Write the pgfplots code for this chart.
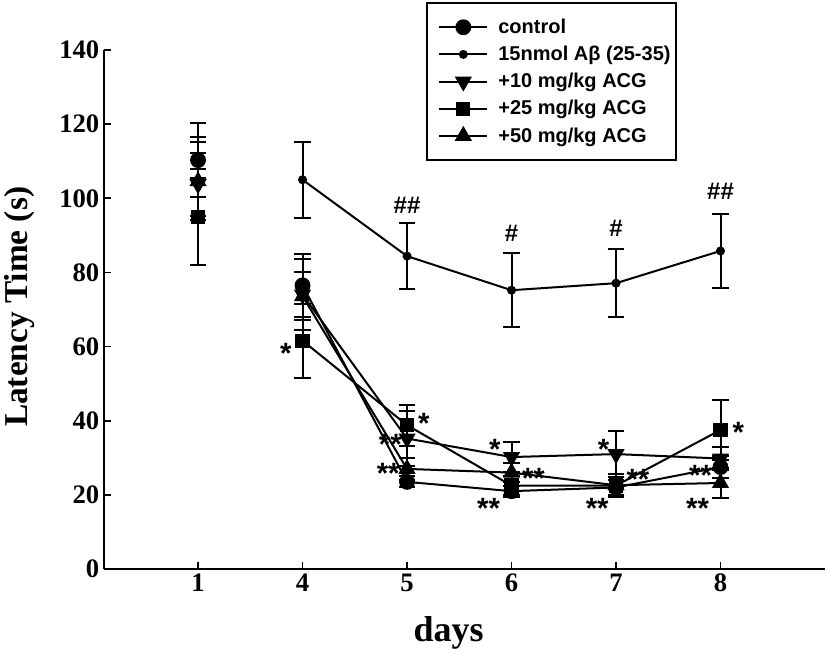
\documentclass[border=0pt]{standalone}
\usepackage{fontspec}
\setmainfont{Liberation Serif}
\setsansfont{Liberation Sans}
\usepackage{pgfplots}
\pgfplotsset{compat=1.18}

\pgfplotstableread{
x y e
1 110.3 10
1.5 nan 0
2 76.5 8.5
3 23.5 1.5
4 21.0 1.5
5 22.0 2
6 27.5 3
}\control
\pgfplotstableread{
x y e
1 111.0 5.5
1.5 nan 0
2 105.0 10.2
3 84.4 9
4 75.2 10
5 77.1 9.2
6 85.8 10
}\abeta
\pgfplotstableread{
x y e
1 103.8 8.5
1.5 nan 0
2 74.0 9.6
3 35.2 7.5
4 30.2 4
5 31.0 6.3
6 29.8 3
}\tenmg
\pgfplotstableread{
x y e
1 95.0 13
1.5 nan 0
2 61.6 10
3 38.8 5.5
4 22.5 2.5
5 22.5 3
6 37.5 8
}\twentyfive
\pgfplotstableread{
x y e
1 104.6 10.5
1.5 nan 0
2 73.6 6.5
3 27.0 3
4 26.0 2.5
5 22.6 3
6 23.2 4
}\fifty

\begin{document}
\begin{tikzpicture}
\begin{axis}[
  scale only axis, width=540.75pt, height=389.25pt,
  xmin=0.1, xmax=7, ymin=0, ymax=140,
  unbounded coords=jump,
  axis lines*=left,
  axis line style={line width=1.5pt, black},
  xtick={1,2,3,4,5,6}, xticklabels={1,4,5,6,7,8},
  ytick={0,20,40,60,80,100,120,140},
  tick align=inside, major tick length=5pt,
  tick style={line width=1.3pt, black},
  /pgf/number format/assume math mode=true,
  ticklabel style={font=\fontsize{20}{20}\selectfont\bfseries},
  xlabel={days}, ylabel={Latency Time (s)},
  x label style={font=\fontsize{27}{27}\selectfont\bfseries, at={(axis description cs:0.478,-0.123)},anchor=center},
  y label style={font=\fontsize{25}{25}\selectfont\bfseries, at={(axis description cs:-0.1165,0.505)},anchor=center},
  legend style={at={(axis description cs:0.4466,1.0925)}, anchor=north west,
    draw=black, line width=1.5pt, font=\sffamily\bfseries\fontsize{15}{18}\selectfont,
    inner xsep=2pt, inner ysep=10pt, row sep=4pt, cells={anchor=west},
    nodes={inner xsep=2pt}},
  legend image code/.code={\path (-6.5pt,0pt) (41.5pt,0pt);\draw[mark repeat=2,mark phase=2] plot coordinates {(0pt,0pt)(18pt,0pt)(36pt,0pt)};},
  every axis plot/.append style={black, line width=1.5pt,
    error bars/y dir=both, error bars/y explicit,
    error bars/error bar style={line width=1.5pt},
    error bars/error mark options={rotate=90, mark size=6.3pt, line width=1.5pt}},
]
\addplot[mark=*, mark size=5.2pt, mark options={fill=black}] table[x=x,y=y,y error=e] {\control};
\addlegendentry{control}
\addplot[mark=*, mark size=2.6pt, mark options={fill=black}] table[x=x,y=y,y error=e] {\abeta};
\addlegendentry{15nmol A\symbol{"03B2} (25-35)}
\addplot[mark=triangle*, mark size=6pt, mark options={fill=black, rotate=180}] table[x=x,y=y,y error=e] {\tenmg};
\addlegendentry{+10 mg/kg ACG}
\addplot[mark=square*, mark size=4.6pt, mark options={fill=black}] table[x=x,y=y,y error=e] {\twentyfive};
\addlegendentry{+25 mg/kg ACG}
\addplot[mark=triangle*, mark size=6pt, mark options={fill=black}] table[x=x,y=y,y error=e] {\fifty};
\addlegendentry{+50 mg/kg ACG}

\coordinate (O) at (rel axis cs:0,0);
\begin{scope}[every node/.style={font=\sffamily\bfseries\fontsize{18}{18}\selectfont}]
\node at (axis cs:3,98) {\#\#};
\node at (axis cs:4,90.6) {\#};
\node at (axis cs:5,92) {\#};
\node at (axis cs:6,102) {\#\#};
\end{scope}
\begin{scope}[every node/.style={font=\sffamily\bfseries\fontsize{22}{22}\selectfont, inner sep=0pt, yshift=-6pt}]
\node at (axis cs:1.84,60.2) {*};
\node at (axis cs:3.16,41.5) {*};
\node at (axis cs:2.84,35.9) {**};
\node at (axis cs:2.82,28) {**};
\node at (axis cs:3.84,34.3) {*};
\node at (axis cs:4.21,26.7) {**};
\node at (axis cs:3.78,18.6) {**};
\node at (axis cs:4.88,34.5) {*};
\node at (axis cs:5.21,26.4) {**};
\node at (axis cs:4.82,18.6) {**};
\node at (axis cs:6.17,39.1) {*};
\node at (axis cs:5.81,27.5) {**};
\node at (axis cs:5.78,18.6) {**};
\end{scope}
\end{axis}
\pgfresetboundingbox
\path[use as bounding box] ([shift={(-78pt,-60.75pt)}]O) rectangle ++(620.25pt,487.5pt);
\end{tikzpicture}
\end{document}
